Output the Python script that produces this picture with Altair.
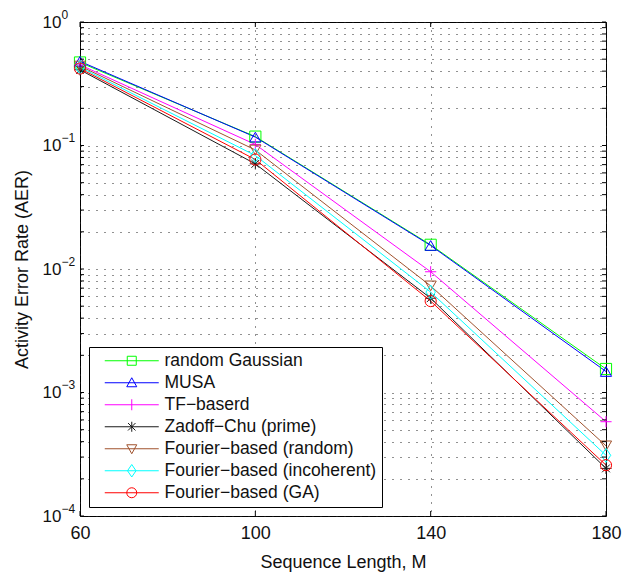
import altair as alt
import pandas as pd

# ---------------- data ----------------
seq_len = [60, 100, 140, 180]
series_names = [
    "random Gaussian",
    "MUSA",
    "TF−baserd",
    "Zadoff−Chu (prime)",
    "Fourier−based (random)",
    "Fourier−based (incoherent)",
    "Fourier−based (GA)",
]
aer_random_gaussian = [0.47, 0.118, 0.0157, 0.00155]
aer_musa = [0.48, 0.117, 0.0155, 0.00148]
aer_tf = [0.45, 0.102, 0.0095, 0.00058]
aer_zc = [0.41, 0.071, 0.0058, 0.000243]
aer_fourier_random = [0.44, 0.092, 0.0073, 0.00037]
aer_fourier_incoherent = [0.43, 0.083, 0.0065, 0.00031]
aer_fourier_ga = [0.42, 0.077, 0.0055, 0.000258]

series_values = [
    aer_random_gaussian, aer_musa, aer_tf, aer_zc,
    aer_fourier_random, aer_fourier_incoherent, aer_fourier_ga,
]
colors = ["#00ff00", "#0000ff", "#ff00ff", "#1a1a1a", "#a0522d", "#00ffff", "#ff0000"]

# tick values
x_ticks = [60, 100, 140, 180]
y_decades = [0.0001, 0.001, 0.01, 0.1, 1.0]
y_mantissas = [2, 3, 4, 5, 6, 7, 8, 9]

# ---------------- marker shapes ----------------
plot_shapes = [
    "square",
    "triangle-up",
    "M-1,0H1M0,-1V1",
    "M-1,0H1M0,-1V1M-0.7,-0.7L0.7,0.7M-0.7,0.7L0.7,-0.7",
    "triangle-down",
    "M0,-1.25L0.85,0L0,1.25L-0.85,0Z",
    "circle",
]
LINE = "M-5.4,0H5.4"
legend_shapes = [
    LINE + "M-0.9,-0.9H0.9V0.9H-0.9Z",
    LINE + "M-1,0.8L0,-1L1,0.8Z",
    LINE + "M0,-1.1V1.1",
    LINE + "M0,-1V1M-0.75,-0.75L0.75,0.75M-0.75,0.75L0.75,-0.75",
    LINE + "M-1,-0.8L0,1L1,-0.8Z",
    LINE + "M0,-1.25L0.85,0L0,1.25L-0.85,0Z",
    LINE + "M1,0A1,1 0 1,1 -1,0A1,1 0 1,1 1,0",
]

rows = []
for name, vals in zip(series_names, series_values):
    for xv, yv in zip(seq_len, vals):
        rows.append({"series": name, "xv": xv, "yv": yv})
df = pd.DataFrame(rows)

y_all = []
for d in y_decades:
    y_all.append(d)
    if d < 1:
        for m in y_mantissas:
            y_all.append(d * m)
y_all = sorted(y_all)
yt_df = pd.DataFrame({"yv": y_all})
xt_df = pd.DataFrame({"xv": x_ticks})

W, H = 526, 494
FONT = "Liberation Sans"
TXT = "#111"
GRID = dict(gridDash=[1, 7], gridColor="#222", gridWidth=1)

xscale = alt.Scale(domain=[60, 180], nice=False, zero=False)
yscale = alt.Scale(type="log", domain=[0.0001, 1], nice=False)

IS_MAJOR = "abs(log(datum.value)/LN10 - round(log(datum.value)/LN10)) < 0.001"
EXP = "-round(log(datum.value)/LN10)"

xaxis = alt.Axis(
    values=x_ticks, title="Sequence Length, M", grid=True, **GRID,
    ticks=False, tickSize=0, domain=False, labelFlush=False,
    labelFont=FONT, labelFontSize=18, labelColor=TXT, labelPadding=8,
    titleFont=FONT, titleFontSize=18, titleFontWeight="normal", titleColor=TXT,
    titleX=W / 2, titleY=46, titleBaseline="middle",
)
# base "10" labels + grid + title
yaxis_main = alt.Axis(
    orient="left", values=y_all, title="Activity Error Rate (AER)", grid=True, **GRID,
    ticks=False, tickSize=0, domain=False, labelFlush=False, labelOverlap=False,
    labelExpr=f"{IS_MAJOR} ? '10' : ''",
    labelFont=FONT, labelFontSize=17, labelColor=TXT, labelPadding=19,
    labelAlign="right", labelBaseline="middle",
    titleFont=FONT, titleFontSize=18, titleFontWeight="normal", titleColor=TXT,
    titleX=-58, titleY=H / 2, titleAngle=270, titleBaseline="middle", titleAlign="center",
)
# exponent labels
yaxis_exp = alt.Axis(
    orient="left", values=y_all, title=None, grid=False,
    ticks=False, tickSize=0, domain=False, labelFlush=False, labelOverlap=False,
    labelExpr=f"{IS_MAJOR} ? ['0','−1','−2','−3','−4'][{EXP}] : ''",
    labelFont=FONT, labelFontSize=12, labelColor=TXT, labelPadding=19,
    labelAlign="left", labelBaseline="middle", labelOffset=-8,
)

X = alt.X("xv:Q", scale=xscale, axis=xaxis)
Y_main = alt.Y("yv:Q", scale=yscale, axis=yaxis_main)
Y_exp = alt.Y("yv:Q", scale=yscale, axis=yaxis_exp)
Y_none = alt.Y("yv:Q", scale=yscale, axis=None)

color_scale = alt.Scale(domain=series_names, range=colors)

lines = alt.Chart(df).mark_line(strokeWidth=1).encode(
    x=X, y=Y_main,
    color=alt.Color("series:N", scale=color_scale, legend=None),
    detail="series:N",
)
points = alt.Chart(df).mark_point(filled=False, size=125, strokeWidth=1, opacity=1).encode(
    x=X, y=Y_exp,
    color=alt.Color("series:N", scale=color_scale, legend=None),
    shape=alt.Shape("series:N", scale=alt.Scale(domain=series_names, range=plot_shapes), legend=None),
)
legend_layer = alt.Chart(df).transform_calculate(lseries="datum.series").transform_filter(
    "false"
).mark_point(filled=False, size=100, strokeWidth=1, opacity=1).encode(
    x=X, y=Y_none,
    color=alt.Color("lseries:N", scale=alt.Scale(domain=series_names, range=colors), legend=alt.Legend(title=None)),
    shape=alt.Shape("lseries:N", scale=alt.Scale(domain=series_names, range=legend_shapes), legend=alt.Legend(title=None)),
)

# inward ticks (box ticks)
yt_left = alt.Chart(yt_df).mark_rule(color="black", strokeWidth=1).encode(
    y=Y_none, x=alt.value(0), x2=alt.value(4))
yt_right = alt.Chart(yt_df).mark_rule(color="black", strokeWidth=1).encode(
    y=Y_none, x=alt.value(W - 4), x2=alt.value(W))
xt_bottom = alt.Chart(xt_df).mark_rule(color="black", strokeWidth=1).encode(
    x=X, y=alt.value(H - 5), y2=alt.value(H))
xt_top = alt.Chart(xt_df).mark_rule(color="black", strokeWidth=1).encode(
    x=X, y=alt.value(0), y2=alt.value(5))

chart = alt.layer(
    lines, points, yt_left, yt_right, xt_bottom, xt_top, legend_layer
).resolve_scale(
    color="independent", shape="independent"
).resolve_axis(
    y="independent"
).properties(
    width=W, height=H,
    autosize=alt.AutoSizeParams(type="none"),
    padding={"left": 72, "top": 14, "right": 22, "bottom": 56},
    background="white",
).configure_view(
    stroke="black", strokeWidth=1,
).configure_legend(
    orient="bottom-left", offset=9, padding=5,
    strokeColor="black", fillColor="white", cornerRadius=0,
    labelFont=FONT, labelFontSize=17.5, labelColor=TXT, labelLimit=0,
    symbolSize=100, symbolStrokeWidth=1, symbolFillColor="transparent",
    rowPadding=3.0, symbolOffset=29, labelOffset=24,
)

chart.save("out.html", embed_options={"renderer": "svg", "actions": False})
